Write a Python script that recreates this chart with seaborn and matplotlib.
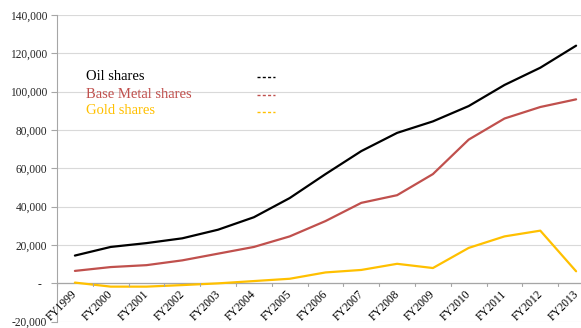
import matplotlib
matplotlib.use("Agg")
import matplotlib.pyplot as plt
import matplotlib.ticker as mticker
import numpy as np
import pandas as pd
import seaborn as sns

years = ["FY1999", "FY2000", "FY2001", "FY2002", "FY2003", "FY2004", "FY2005",
         "FY2006", "FY2007", "FY2008", "FY2009", "FY2010", "FY2011", "FY2012", "FY2013"]
oil = [14500, 19000, 21000, 23500, 28000, 34500, 44500, 57000, 69000, 78500,
       84500, 92500, 103500, 112500, 124000]
base_metal = [6500, 8500, 9500, 12000, 15500, 19000, 24500, 32500, 42000, 46000,
              57000, 75000, 86000, 92000, 96000]
gold = [400, -1700, -1700, -900, 0, 1200, 2400, 5700, 7000, 10200,
        8000, 18500, 24500, 27500, 6300]

series_names = ["Oil shares", "Base Metal shares", "Gold shares"]
series_colors = ["#000000", "#C0504D", "#FFC000"]

df = pd.DataFrame({
    "year": years * 3,
    "pos": list(range(len(years))) * 3,
    "value": oil + base_metal + gold,
    "series": [s for s in series_names for _ in years],
})

sns.set_theme(style="white")
plt.rcParams["font.family"] = ["Liberation Serif", "DejaVu Serif"]

W, H = 581, 328
fig = plt.figure(figsize=(W / 100, H / 100), dpi=100)
ax_left, ax_bottom, ax_w, ax_h = 57, 6.3, 537, 306.7
ax = fig.add_axes([ax_left / W, ax_bottom / H, ax_w / W, ax_h / H])
ax_top_px = H - ax_bottom - ax_h  # distance of the plot top from the figure top

sns.lineplot(data=df, x="pos", y="value", hue="series", hue_order=series_names,
             palette=series_colors, linewidth=1.6, ax=ax, legend=False)

ax.set_xlim(-0.5, len(years) - 0.5)
ax.set_ylim(-20000, 140000)
ax.set_xlabel("")
ax.set_ylabel("")

# horizontal gridlines
ax.yaxis.set_major_locator(mticker.MultipleLocator(20000))
ax.grid(axis="y", color="#d9d9d9", linewidth=0.8)
ax.grid(axis="x", visible=False)
ax.set_axisbelow(True)

def yfmt(v, _):
    if abs(v) < 1e-6:
        return "-  "
    return f"{v:,.0f}"

ax.yaxis.set_major_formatter(mticker.FuncFormatter(yfmt))
ax.tick_params(axis="y", which="major", direction="out", length=4, width=0.8,
               color="#a6a6a6", labelsize=8.3, pad=3, left=True)

# category axis sits on the zero line
for side in ["top", "right", "bottom"]:
    ax.spines[side].set_visible(False)
ax.spines["left"].set_color("#a6a6a6")
ax.spines["left"].set_linewidth(0.8)
ax.axhline(0, color="#a6a6a6", linewidth=0.9, zorder=1.5)

ax.set_xticks(range(len(years)))
ax.tick_params(axis="x", which="major", length=0, bottom=True)
ax.set_xticklabels([])
for i, lab in enumerate(years):
    ax.text(i - 0.1, -2600, lab, rotation=45, ha="right", va="top",
            rotation_mode="anchor", fontsize=8.3, color="#000000")
for xm in np.arange(-0.5, len(years), 1.0):
    ax.plot([xm, xm], [0, -1600], color="#a6a6a6", linewidth=0.8, clip_on=False)

# legend: label on the left, short dashed sample on the right
label_x = (86 - ax_left) / ax_w
sample_x0 = (257 - ax_left) / ax_w
sample_x1 = (275 - ax_left) / ax_w
row_y = [76, 94, 111]
for name, color, yp in zip(series_names, series_colors, row_y):
    yf = 1 - (yp - ax_top_px) / ax_h
    ax.text(label_x, yf, name, color=color, fontsize=10.5, ha="left",
            va="center", transform=ax.transAxes)
    ax.plot([sample_x0, sample_x1], [yf - 0.004, yf - 0.004], color=color,
            linewidth=1.0, linestyle=(0, (2.2, 1.6)), transform=ax.transAxes)

fig.savefig("out.png", dpi=100)
